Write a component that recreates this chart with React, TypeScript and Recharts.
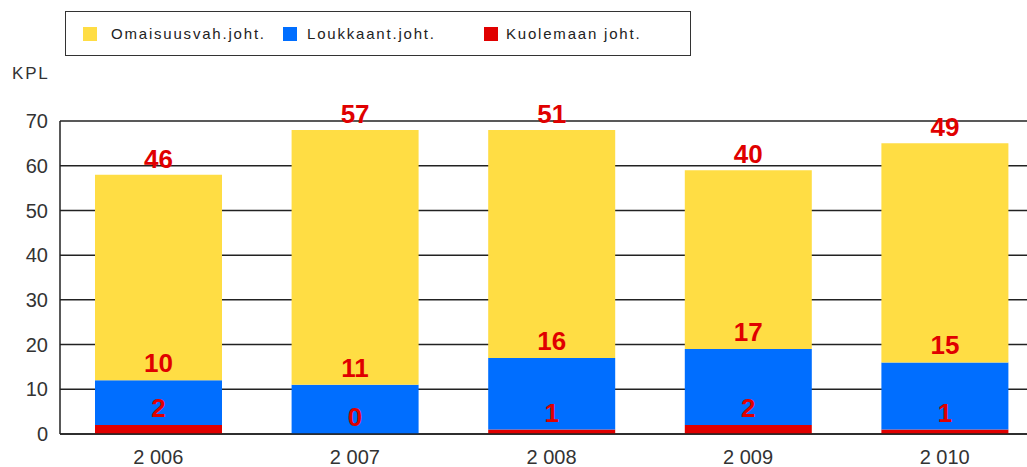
import React from 'react';
import { BarChart, Bar, XAxis, YAxis, CartesianGrid, LabelList } from 'recharts';

const years = ['2 006', '2 007', '2 008', '2 009', '2 010'];
const kuolemaan = [2, 0, 1, 2, 1];
const loukkaant = [10, 11, 16, 17, 15];
const omaisuus = [46, 57, 51, 40, 49];
const yTicks = [0, 10, 20, 30, 40, 50, 60, 70];

const series = [
  { key: 'omaisuus', name: 'Omaisuusvah.joht.', color: '#FFDD44' },
  { key: 'loukkaant', name: 'Loukkaant.joht.', color: '#006EFF' },
  { key: 'kuolemaan', name: 'Kuolemaan joht.', color: '#E00000' },
];

const data = years.map((year, i) => ({
  year,
  kuolemaan: kuolemaan[i],
  loukkaant: loukkaant[i],
  omaisuus: omaisuus[i],
}));

const labelFont = '"Liberation Sans Narrow", "Liberation Sans", Arial, sans-serif';
const axisFont = '"Liberation Sans", Arial, sans-serif';

// legend item x offsets inside the box (square, text)
const legendPos = [
  [17, 45],
  [217, 241],
  [418, 440],
];

const LegendBox = () => (
  <div style={{ position: 'absolute', left: 65, top: 11, width: 624, height: 43, border: '1.5px solid #333', background: '#fff' }}>
    {series.map((s, i) => (
      <React.Fragment key={s.key}>
        <div style={{ position: 'absolute', left: legendPos[i][0], top: 15, width: 14, height: 14, background: s.color }} />
        <div style={{ position: 'absolute', left: legendPos[i][1], top: 12, fontFamily: axisFont, fontSize: 15, letterSpacing: 1.8, color: '#222', whiteSpace: 'nowrap', lineHeight: '20px' }}>
          {s.name}
        </div>
      </React.Fragment>
    ))}
  </div>
);

const labelStyle = { fill: '#E00000', fontSize: 26, fontWeight: 700, fontFamily: labelFont };

// red value drawn just above the red segment, i.e. at the bottom edge of the blue bar
const RedLabel = (props: any) => {
  const { x, y, width, height, value } = props;
  return (
    <text x={x + width / 2} y={y + height - 8} textAnchor="middle" style={labelStyle}>
      {value}
    </text>
  );
};

export default function App() {
  return (
    <div style={{ position: 'fixed', left: 0, top: 0, width: 1027, height: 467, overflow: 'hidden', background: '#fff' }}>
      <LegendBox />
      <div style={{ position: 'absolute', left: 12, top: 64, fontFamily: axisFont, fontSize: 17, letterSpacing: 1.8, color: '#333' }}>KPL</div>
      <BarChart width={1043} height={467} data={data} margin={{ top: 121, right: 0, bottom: 3, left: 0 }}>
        <CartesianGrid horizontal vertical={false} stroke="#222" strokeWidth={1.5} />
        <XAxis
          dataKey="year"
          height={30}
          tickLine={false}
          axisLine={{ stroke: '#222', strokeWidth: 1.5 }}
          tickMargin={10}
          tick={{ fill: '#333', fontSize: 20, fontFamily: axisFont }}
        />
        <YAxis
          width={60}
          domain={[0, 70]}
          ticks={yTicks}
          interval={0}
          tickLine={false}
          axisLine={{ stroke: '#222', strokeWidth: 1.5 }}
          tickMargin={6}
          tick={{ fill: '#333', fontSize: 20, fontFamily: axisFont }}
        />
        <Bar dataKey="kuolemaan" name="Kuolemaan joht." stackId="a" fill="#E00000" barSize={127} isAnimationActive={false} />
        <Bar dataKey="loukkaant" name="Loukkaant.joht." stackId="a" fill="#006EFF" barSize={127} isAnimationActive={false}>
          <LabelList dataKey="kuolemaan" content={RedLabel} />
          <LabelList dataKey="loukkaant" position="top" offset={8} style={labelStyle} />
        </Bar>
        <Bar dataKey="omaisuus" name="Omaisuusvah.joht." stackId="a" fill="#FFDD44" barSize={127} isAnimationActive={false}>
          <LabelList dataKey="omaisuus" position="top" offset={7} style={labelStyle} />
        </Bar>
      </BarChart>
    </div>
  );
}
